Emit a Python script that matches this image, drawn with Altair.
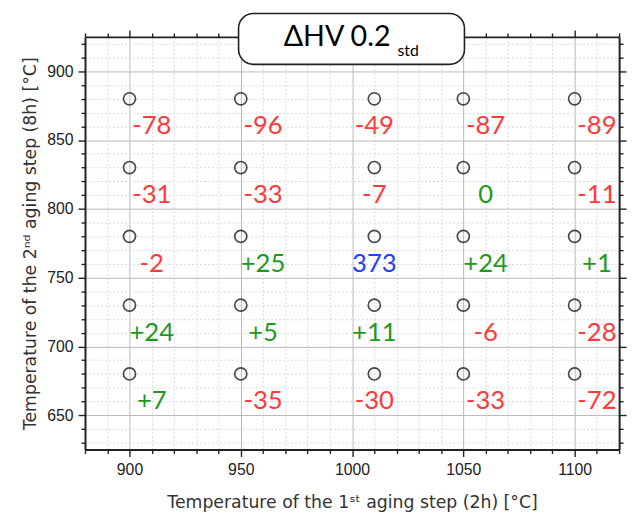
import altair as alt
import pandas as pd

# ---------------- data ----------------
circle_x = [900, 950, 1010, 1050, 1100]      # 1st aging step temperature (circle positions)
label_x = [910, 960, 1010, 1060, 1110]       # where the delta labels sit
circle_y = [880, 830, 780, 730, 680]         # 2nd aging step temperature
label_y = [860, 810, 760, 710, 660]

delta_rows = [
    ["-78", "-96", "-49", "-87", "-89"],
    ["-31", "-33", "-7", "0", "-11"],
    ["-2", "+25", "373", "+24", "+1"],
    ["+24", "+5", "+11", "-6", "-28"],
    ["+7", "-35", "-30", "-33", "-72"],
]
reference_value = "373"

x_ticks = list(range(880, 1121, 10))
y_ticks = list(range(630, 921, 10))

box_x = [949, 1050.5]
box_y = [905, 942]
title_main = "ΔHV 0.2"
title_sub = "std"
title_main_pos = (1017.3, 918.3)
title_sub_pos = (1020.4, 911.1)

x_title = "Temperature of the 1ˢᵗ aging step (2h) [°C]"
y_title = "Temperature of the 2ⁿᵈ aging step (8h) [°C]"

# ---------------- tables ----------------
rows = []
for i, yv in enumerate(circle_y):
    for j, xv in enumerate(circle_x):
        txt = delta_rows[i][j]
        kind = "ref" if txt == reference_value else ("neg" if txt.startswith("-") else "pos")
        rows.append({"cx": xv, "cy": yv, "lx": label_x[j], "ly": label_y[i],
                     "txt": txt, "kind": kind})
df = pd.DataFrame(rows)

box_df = pd.DataFrame({"x": [box_x[0]], "x2": [box_x[1]], "y": [box_y[0]], "y2": [box_y[1]]})
tmain_df = pd.DataFrame({"x": [title_main_pos[0]], "y": [title_main_pos[1]], "t": [title_main]})
tsub_df = pd.DataFrame({"x": [title_sub_pos[0]], "y": [title_sub_pos[1]], "t": [title_sub]})

xs = alt.Scale(domain=[880, 1120], nice=False, zero=False)
ys = alt.Scale(domain=[625, 925], nice=False, zero=False)

major = "datum.value % 50 === 0"
TXT = "#222222"
TITLE_FONT = "DejaVu Sans"
NUM_FONT = "Lato"
LABEL_FONT = "Liberation Sans"


def cond(a, b):
    return {"condition": {"test": major, "value": a}, "value": b}


def main_axis(orient, values, title):
    return alt.Axis(
        orient=orient, values=values, title=title, format="d",
        labelExpr=f"{major} ? datum.label : ''",
        labelOverlap=False, labelFlush=False,
        labelFont=LABEL_FONT, labelFontSize=16, labelColor=TXT, labelPadding=5,
        grid=True,
        gridColor=cond("#b9b9b9", "#d9d9d9"),
        gridDash=cond([], [2, 2]),
        gridWidth=1,
        ticks=True, tickSize=cond(7, 4), tickColor=TXT, tickWidth=1.4,
        domain=True, domainColor=TXT, domainWidth=2,
        titleFont=TITLE_FONT, titleFontSize=17.5, titleFontWeight="normal",
        titleColor="#333333", titlePadding=17 if orient == "bottom" else 7,
    )


def mirror_axis(orient, values):
    return alt.Axis(
        orient=orient, values=values, title=None, labels=False, grid=False,
        ticks=True, tickSize=cond(7, 4), tickColor=TXT, tickWidth=1.4,
        domain=True, domainColor=TXT, domainWidth=2,
    )


base = alt.Chart(df)

points = base.mark_point(shape="circle", filled=False, color="black", size=150, strokeWidth=1.7).encode(
    x=alt.X("cx:Q", scale=xs, axis=main_axis("bottom", x_ticks, x_title)),
    y=alt.Y("cy:Q", scale=ys, axis=main_axis("left", y_ticks, y_title)),
)

mirror = base.mark_point(opacity=0).encode(
    x=alt.X("cx:Q", scale=xs, axis=mirror_axis("top", x_ticks)),
    y=alt.Y("cy:Q", scale=ys, axis=mirror_axis("right", y_ticks)),
)

labels = base.mark_text(font=NUM_FONT, fontSize=26, fontWeight=400, align="center", baseline="middle").encode(
    x=alt.X("lx:Q", scale=xs, axis=None),
    y=alt.Y("ly:Q", scale=ys, axis=None),
    text="txt:N",
    color=alt.Color("kind:N", scale=alt.Scale(domain=["neg", "pos", "ref"],
                                              range=["#ff3a3a", "#1e9a1e", "#2340ff"]),
                    legend=None),
)

box = alt.Chart(box_df).mark_rect(fill="white", stroke="#222222", strokeWidth=1.6, cornerRadius=15).encode(
    x=alt.X("x:Q", scale=xs, axis=None), x2="x2:Q",
    y=alt.Y("y:Q", scale=ys, axis=None), y2="y2:Q",
)

tmain = alt.Chart(tmain_df).mark_text(font=NUM_FONT, fontSize=29, fontWeight=400, align="right",
                                      baseline="alphabetic", color="black").encode(
    x=alt.X("x:Q", scale=xs, axis=None), y=alt.Y("y:Q", scale=ys, axis=None), text="t:N")

tsub = alt.Chart(tsub_df).mark_text(font=NUM_FONT, fontSize=16, fontWeight=400, align="left",
                                    baseline="alphabetic", color="black").encode(
    x=alt.X("x:Q", scale=xs, axis=None), y=alt.Y("y:Q", scale=ys, axis=None), text="t:N")

chart = alt.layer(points, mirror, labels, box, tmain, tsub).resolve_axis(
    x="independent", y="independent"
).properties(
    width=541, height=418,
    autosize=alt.AutoSizeParams(type="none"),
    padding={"left": 78, "top": 26, "right": 10, "bottom": 63},
).configure_view(stroke=None)

chart.save("out.html", embed_options={"renderer": "svg", "actions": False})
